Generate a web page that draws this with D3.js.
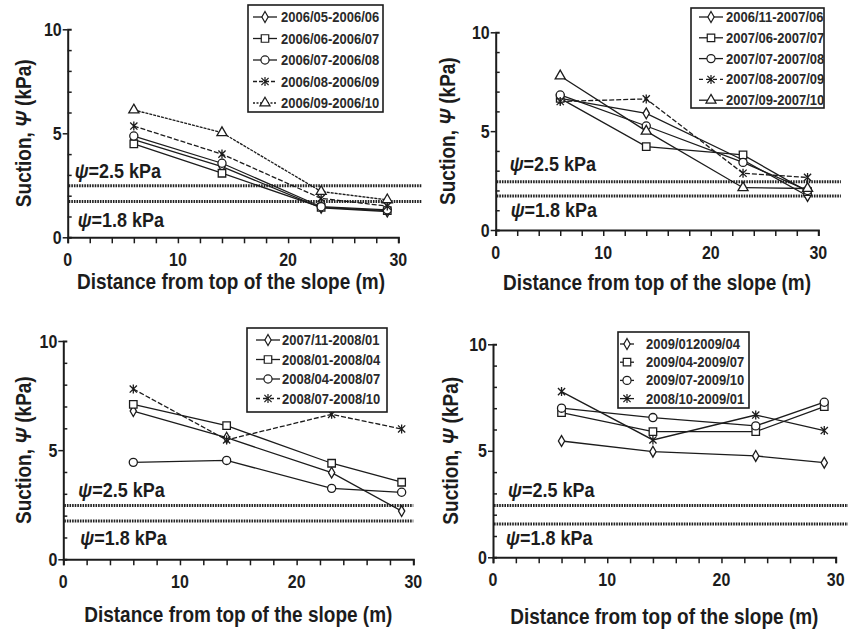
<!DOCTYPE html>
<html>
<head>
<meta charset="utf-8">
<script src="https://cdn.jsdelivr.net/npm/d3@7"></script>
<style>
  body { margin: 0; background: #fff; }
  svg { font-family: "Liberation Sans", Arial, sans-serif; }
</style>
</head>
<body>
<div id="chart"></div>
<script>
// Shared x positions (distance from top of slope, m)
var distance = [6, 14, 23, 29];
var xTickLabels = [0, 10, 20, 30];
var yTickLabels = [0, 5, 10];
var refLabels = ["2.5", "1.8"];

// Panel 1 (2006)
var p1Names = ["2006/05-2006/06", "2006/06-2006/07", "2006/07-2006/08", "2006/08-2006/09", "2006/09-2006/10"];
var p1Values = [
  [4.7, 3.4, 1.42, 1.24],
  [4.49, 3.08, 1.44, 1.28],
  [4.87, 3.56, 1.47, 1.32],
  [5.35, 4.0, 1.87, 1.5],
  [6.12, 5.03, 2.2, 1.8]
];
var p1Refs = [2.48, 1.72];

// Panel 2 (2006/11 - 2007/10)
var p2Names = ["2006/11-2007/06", "2007/06-2007/07", "2007/07-2007/08", "2007/08-2007/09", "2007/09-2007/10"];
var p2Values = [
  [6.66, 5.9, 3.54, 1.72],
  [6.66, 4.22, 3.8, 1.94],
  [6.83, 5.26, 3.42, 2.0],
  [6.5, 6.63, 2.87, 2.66],
  [7.79, 5.0, 2.14, 2.1]
];
var p2Refs = [2.44, 1.72];

// Panel 3 (2007/11 - 2008/10)
var p3Names = ["2007/11-2008/01", "2008/01-2008/04", "2008/04-2008/07", "2008/07-2008/10"];
var p3Values = [
  [6.79, 5.57, 3.97, 2.21],
  [7.1, 6.12, 4.4, 3.53],
  [4.44, 4.53, 3.25, 3.07],
  [7.8, 5.47, 6.64, 5.97]
];
var p3Refs = [2.46, 1.76];

// Panel 4 (2008/10 - 2009/10)
var p4Names = ["2009/012009/04", "2009/04-2009/07", "2009/07-2009/10", "2008/10-2009/01"];
var p4Values = [
  [5.46, 4.96, 4.76, 4.44],
  [6.79, 5.9, 5.9, 7.07],
  [7.0, 6.56, 6.17, 7.28],
  [7.78, 5.51, 6.68, 5.95]
];
var p4Refs = [2.43, 1.56];

var ink = "#1c1c1c";
var stretch = 1.15; // the source text is a bit taller than Arial

var svg = d3.select("#chart").append("svg")
  .attr("width", 848)
  .attr("height", 630);

// text placed at (x, y) and stretched vertically
function tallText(parent, x, y, size, rotate) {
  return parent.append("text")
    .attr("transform", "translate(" + x + "," + y + ")" + (rotate ? " rotate(-90)" : "") + " scale(1," + stretch + ")")
    .attr("font-size", size)
    .attr("font-weight", "bold")
    .attr("fill", ink);
}

// marker paths
function markerPath(kind) {
  if (kind === "star") {
    var r = 4.5, d = 3.6;
    return "M0," + (-r) + "V" + r + "M" + (-d) + "," + (-d) + "L" + d + "," + d +
      "M" + (-d) + "," + d + "L" + d + "," + (-d);
  }
  var sym = { diamond: d3.symbolDiamond, square: d3.symbolSquare, circle: d3.symbolCircle, triangle: d3.symbolTriangle }[kind];
  var size = { diamond: 34, square: 56, circle: 52, triangle: 44 }[kind];
  return d3.symbol().type(sym).size(size)();
}

function drawPanel(cfg) {
  var x = d3.scaleLinear().domain([0, 30]).range([cfg.x0, cfg.x30]);
  var y = d3.scaleLinear().domain([0, 10]).range([cfg.y0, cfg.y10]);
  var g = svg.append("g");

  // reference lines
  cfg.refs.forEach(function(v, i) {
    g.append("line")
      .attr("x1", x(0) + 1).attr("x2", x(cfg.refEnd))
      .attr("y1", y(v)).attr("y2", y(v))
      .attr("stroke", "#222")
      .attr("stroke-width", 3)
      .attr("stroke-dasharray", "1.6,1");
    var lbl = tallText(g, x(0) + cfg.refDx[i], y(v) + cfg.refDy[i], 18);
    lbl.append("tspan").attr("font-style", "italic").text("\u03c8");
    lbl.append("tspan").text("=" + refLabels[i] + " kPa");
  });

  // axes
  var xAxis = d3.axisBottom(x).tickValues(d3.range(0, 31, 2)).tickSize(6).tickFormat("");
  var gx = g.append("g").attr("transform", "translate(0," + cfg.y0 + ")").call(xAxis);
  var yAxis = d3.axisLeft(y).tickValues(d3.range(0, 11, 1)).tickSize(-4).tickFormat("");
  var gy = g.append("g").attr("transform", "translate(" + cfg.x0 + ",0)").call(yAxis);
  [gx, gy].forEach(function(a) {
    a.selectAll("path").attr("stroke", ink).attr("stroke-width", 2);
    a.selectAll("line").attr("stroke", ink).attr("stroke-width", 1.5);
  });
  gy.selectAll(".tick").filter(function(d) { return d % 5 === 0; }).select("line").attr("x2", -5);

  xTickLabels.forEach(function(d) {
    tallText(g, x(d), cfg.y0 + 29, 16).attr("text-anchor", "middle").text(d);
  });
  yTickLabels.forEach(function(d) {
    tallText(g, cfg.x0 - 6, y(d) + 6.5, 16).attr("text-anchor", "end").text(d);
  });

  // axis titles
  tallText(g, (cfg.x0 + cfg.x30) / 2 + cfg.titleDx, cfg.titleY, 19)
    .attr("text-anchor", "middle")
    .text("Distance from top of the slope (m)");
  var yt = tallText(g, cfg.ytX, (cfg.y0 + cfg.y10) / 2, 19, true)
    .attr("text-anchor", "middle");
  yt.append("tspan").text("Suction, ");
  yt.append("tspan").attr("font-style", "italic").text("\u03a8");
  yt.append("tspan").text(" (kPa)");

  // series
  var line = d3.line()
    .x(function(d, i) { return x(distance[i]); })
    .y(function(d) { return y(d); });

  cfg.values.forEach(function(vals, s) {
    g.append("path")
      .attr("d", line(vals))
      .attr("fill", "none")
      .attr("stroke", ink)
      .attr("stroke-width", 1.3)
      .attr("stroke-dasharray", cfg.dashes[s]);
  });
  cfg.values.forEach(function(vals, s) {
    g.selectAll(null).data(vals).enter().append("path")
      .attr("transform", function(d, i) { return "translate(" + x(distance[i]) + "," + y(d) + ")"; })
      .attr("d", markerPath(cfg.markers[s]))
      .attr("fill", cfg.markers[s] === "star" ? "none" : "#fff")
      .attr("stroke", ink)
      .attr("stroke-width", 1.3);
  });

  // legend
  var lg = g.append("g");
  lg.append("rect")
    .attr("x", cfg.legend.x).attr("y", cfg.legend.y)
    .attr("width", cfg.legend.w).attr("height", cfg.legend.h)
    .attr("fill", "#fff").attr("stroke", ink).attr("stroke-width", 1.6);
  cfg.names.forEach(function(name, s) {
    var ry = cfg.legend.y + cfg.legend.first + s * cfg.legend.step;
    var lx = cfg.legend.x + cfg.legend.lineX;
    lg.append("line")
      .attr("x1", lx).attr("x2", lx + cfg.legend.lineW)
      .attr("y1", ry).attr("y2", ry)
      .attr("stroke", ink).attr("stroke-width", 1.3)
      .attr("stroke-dasharray", cfg.legendDashes[s]);
    lg.append("path")
      .attr("transform", "translate(" + (lx + cfg.legend.lineW / 2) + "," + ry + ")")
      .attr("d", markerPath(cfg.markers[s]))
      .attr("fill", cfg.markers[s] === "star" ? "none" : "#fff")
      .attr("stroke", ink).attr("stroke-width", 1.2);
    tallText(lg, cfg.legend.x + cfg.legend.textX, ry + 5, 13)
      .attr("fill", "#2a2a2a")
      .text(name);
  });
}

drawPanel({
  x0: 67.7, x30: 398.3, y0: 237.3, y10: 29.3, refEnd: 32.1,
  refs: p1Refs, refDx: [7, 10], refDy: [-8, 25],
  titleDx: -2, titleY: 289, ytX: 31,
  values: p1Values, names: p1Names,
  markers: ["diamond", "square", "circle", "star", "triangle"],
  dashes: [null, null, null, "5,2", "3,1"],
  legendDashes: [null, null, null, "4,2", "2,1.5"],
  legend: { x: 248, y: 5, w: 135, h: 107, first: 12, step: 21.5, lineX: 5, lineW: 24, textX: 33 }
});

drawPanel({
  x0: 495.7, x30: 818.3, y0: 230, y10: 32.3, refEnd: 32.1,
  refs: p2Refs, refDx: [14, 15], refDy: [-11, 21],
  titleDx: 0, titleY: 290, ytX: 455,
  values: p2Values, names: p2Names,
  markers: ["diamond", "square", "circle", "star", "triangle"],
  dashes: [null, null, null, "5,2", null],
  legendDashes: [null, null, null, "4,3", null],
  legend: { x: 691, y: 8, w: 133, h: 100, first: 9, step: 20.8, lineX: 8, lineW: 24, textX: 35 }
});

drawPanel({
  x0: 63.3, x30: 413.3, y0: 559.3, y10: 341, refEnd: 30,
  refs: p3Refs, refDx: [15, 17], refDy: [-9, 24],
  titleDx: 0, titleY: 622, ytX: 31,
  values: p3Values, names: p3Names,
  markers: ["diamond", "square", "circle", "star"],
  dashes: [null, null, null, "5,2"],
  legendDashes: [null, null, null, "4,3"],
  legend: { x: 247, y: 328, w: 140, h: 84, first: 12, step: 19.5, lineX: 9, lineW: 24, textX: 35 }
});

drawPanel({
  x0: 493, x30: 835.7, y0: 557.3, y10: 344.3, refEnd: 31.8,
  refs: p4Refs, refDx: [15, 13], refDy: [-9, 21],
  titleDx: 0, titleY: 624, ytX: 458,
  values: p4Values, names: p4Names,
  markers: ["diamond", "square", "circle", "star"],
  dashes: [null, null, null, null],
  legendDashes: [null, null, null, null],
  legend: { x: 618, y: 332, w: 131, h: 76, first: 12, step: 18.2, lineX: 2, lineW: 14, textX: 28 }
});
</script>
</body>
</html>
